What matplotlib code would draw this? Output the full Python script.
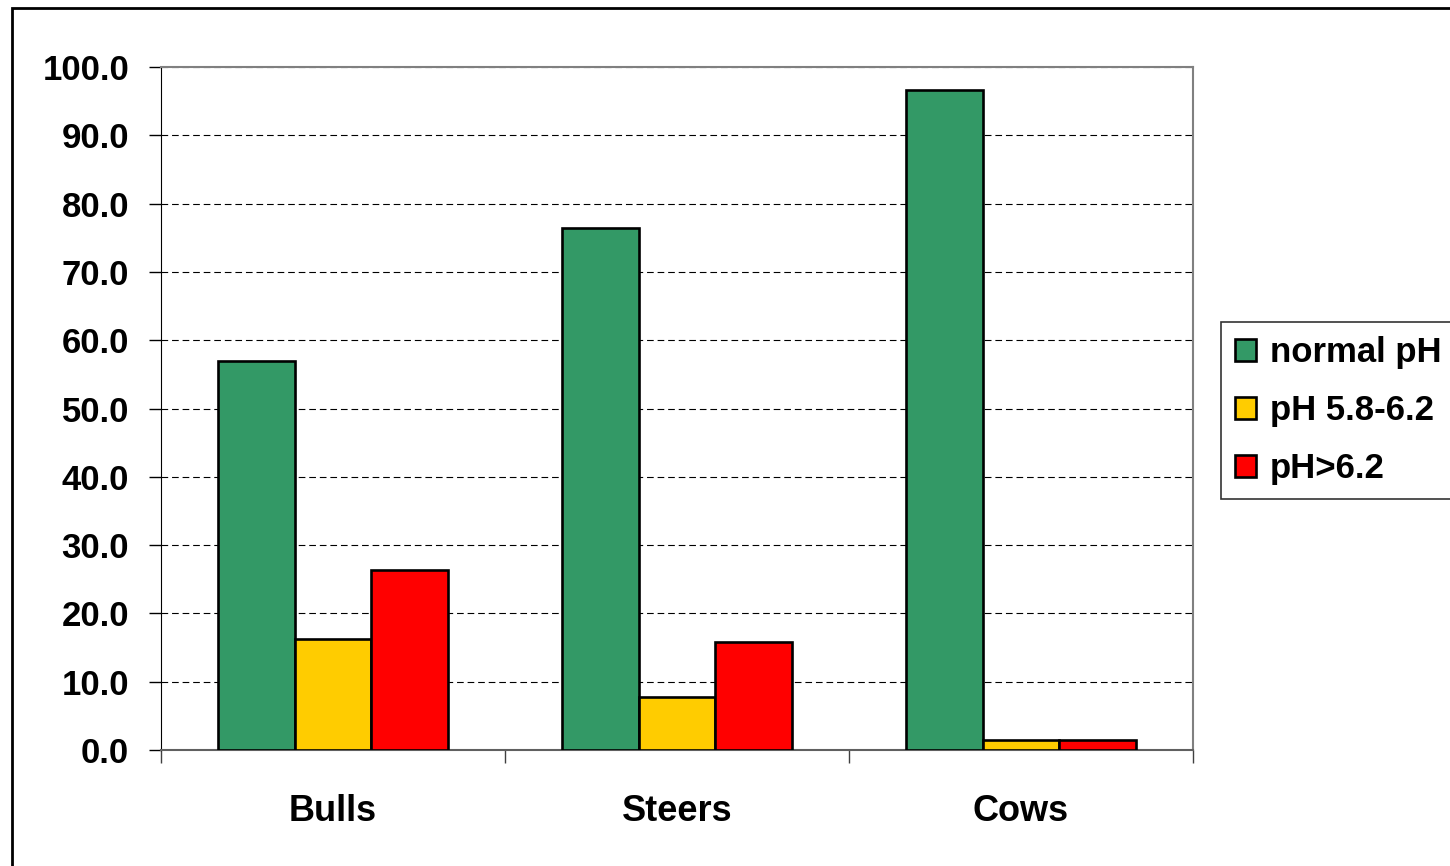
import matplotlib.pyplot as plt
import numpy as np
from matplotlib.patches import Rectangle

categories = ["Bulls", "Steers", "Cows"]
series_names = ["normal pH", "pH 5.8-6.2", "pH>6.2"]
normal_ph = [57.0, 76.4, 96.6]
ph_mid = [16.2, 7.8, 1.4]
ph_high = [26.4, 15.8, 1.4]
colors = ["#339966", "#FFCC00", "#FF0000"]
yticks = [0, 10, 20, 30, 40, 50, 60, 70, 80, 90, 100]

plt.rcParams["font.family"] = ["Liberation Sans", "DejaVu Sans"]
plt.rcParams["font.weight"] = "bold"

fig = plt.figure(figsize=(14.5, 8.66), dpi=100)
ax = fig.add_axes([161 / 1450, 1 - 750 / 866, (1193 - 161) / 1450, (750 - 67) / 866])

x = np.arange(len(categories))
w = 0.222
for i, (vals, name) in enumerate(zip([normal_ph, ph_mid, ph_high], series_names)):
    ax.bar(x + (i - 1) * w, vals, width=w, color=colors[i], edgecolor="black",
           linewidth=1.9, label=name, zorder=3)

ax.set_xlim(-0.5, 2.5)
ax.set_ylim(0, 100)
ax.set_yticks(yticks)
ax.set_yticklabels(["%.1f" % v for v in yticks])
ax.set_xticks(x)
ax.set_xticklabels(categories)
ax.set_xticks([-0.5, 0.5, 1.5, 2.5], minor=True)
ax.tick_params(axis="x", which="major", length=0, pad=32, labelsize=26)
ax.tick_params(axis="x", which="minor", length=9, width=1, color="#404040")
ax.tick_params(axis="y", length=9, width=1, pad=14, labelsize=25)

ax.yaxis.grid(True, linestyle=(0, (6, 3.5)), color="black", linewidth=0.8, zorder=0)
ax.set_axisbelow(True)

ax.spines["top"].set_color("#808080")
ax.spines["right"].set_color("#808080")
ax.spines["top"].set_linewidth(1.5)
ax.spines["right"].set_linewidth(1.5)
ax.spines["left"].set_color("black")
ax.spines["bottom"].set_color("#606060")
ax.spines["bottom"].set_linewidth(1.5)

leg = fig.legend(loc="upper left", bbox_to_anchor=(1221 / 1450, 1 - 322 / 866),
                 fontsize=25, frameon=True, fancybox=False, edgecolor="black",
                 handlelength=0.6, handleheight=0.6, handletextpad=0.4,
                 labelspacing=0.72, borderpad=0.4, borderaxespad=0)
leg.get_frame().set_linewidth(1.2)

fig.patches.append(Rectangle((12 / 1450, -0.1), 1.2, 1 - 8 / 866 + 0.1,
                             transform=fig.transFigure, fill=False,
                             edgecolor="black", linewidth=2))

fig.savefig("out.png", dpi=100)
